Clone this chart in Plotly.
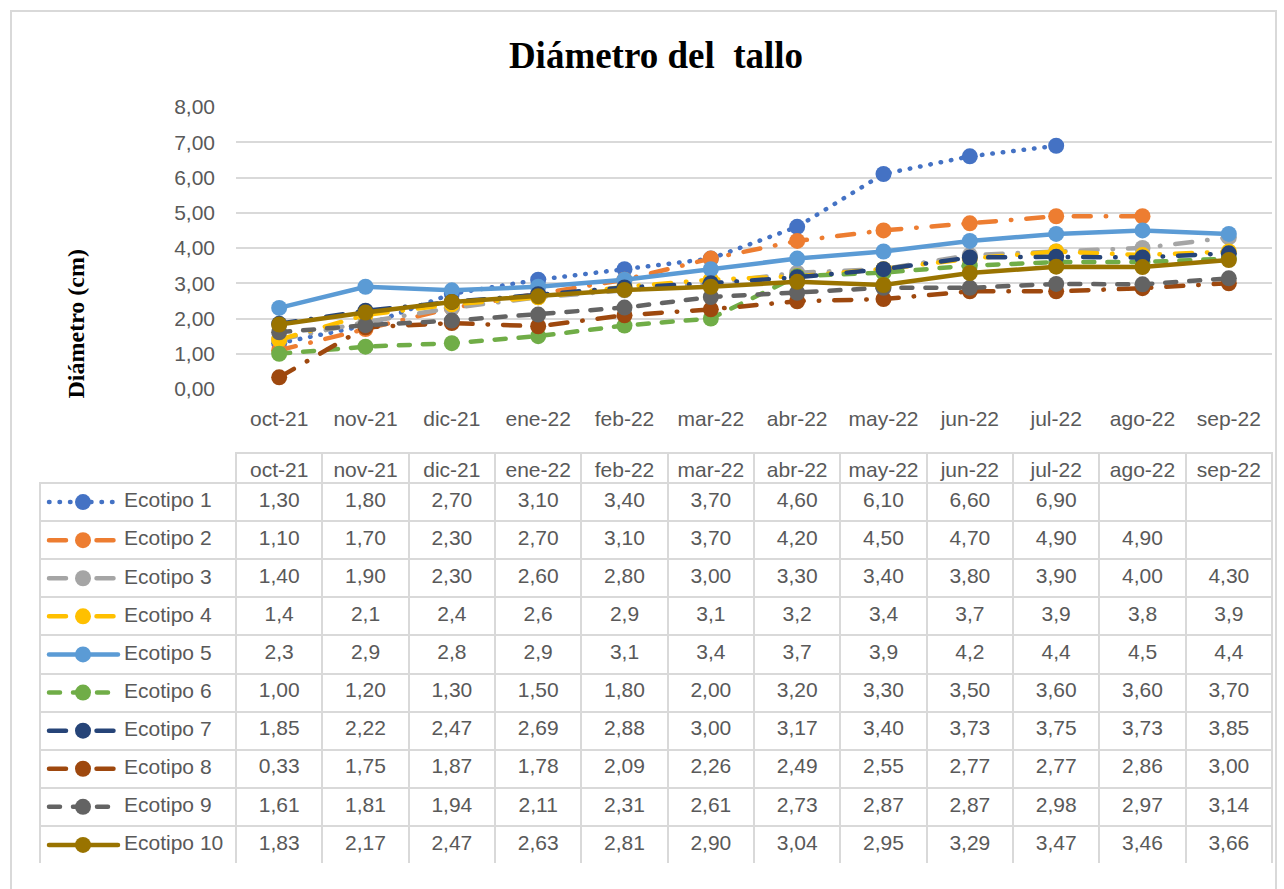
import plotly.graph_objects as go

W, H = 1284, 889

meses = ["oct-21", "nov-21", "dic-21", "ene-22", "feb-22", "mar-22",
         "abr-22", "may-22", "jun-22", "jul-22", "ago-22", "sep-22"]

ecotipo_1 = [1.30, 1.80, 2.70, 3.10, 3.40, 3.70, 4.60, 6.10, 6.60, 6.90, None, None]
ecotipo_2 = [1.10, 1.70, 2.30, 2.70, 3.10, 3.70, 4.20, 4.50, 4.70, 4.90, 4.90, None]
ecotipo_3 = [1.40, 1.90, 2.30, 2.60, 2.80, 3.00, 3.30, 3.40, 3.80, 3.90, 4.00, 4.30]
ecotipo_4 = [1.4, 2.1, 2.4, 2.6, 2.9, 3.1, 3.2, 3.4, 3.7, 3.9, 3.8, 3.9]
ecotipo_5 = [2.3, 2.9, 2.8, 2.9, 3.1, 3.4, 3.7, 3.9, 4.2, 4.4, 4.5, 4.4]
ecotipo_6 = [1.00, 1.20, 1.30, 1.50, 1.80, 2.00, 3.20, 3.30, 3.50, 3.60, 3.60, 3.70]
ecotipo_7 = [1.85, 2.22, 2.47, 2.69, 2.88, 3.00, 3.17, 3.40, 3.73, 3.75, 3.73, 3.85]
ecotipo_8 = [0.33, 1.75, 1.87, 1.78, 2.09, 2.26, 2.49, 2.55, 2.77, 2.77, 2.86, 3.00]
ecotipo_9 = [1.61, 1.81, 1.94, 2.11, 2.31, 2.61, 2.73, 2.87, 2.87, 2.98, 2.97, 3.14]
ecotipo_10 = [1.83, 2.17, 2.47, 2.63, 2.81, 2.90, 3.04, 2.95, 3.29, 3.47, 3.46, 3.66]

nombres = ["Ecotipo %d" % i for i in range(1, 11)]
series = [ecotipo_1, ecotipo_2, ecotipo_3, ecotipo_4, ecotipo_5,
          ecotipo_6, ecotipo_7, ecotipo_8, ecotipo_9, ecotipo_10]
decimales = [2, 2, 2, 1, 1, 2, 2, 2, 2, 2]

colores = ["#4472C4", "#ED7D31", "#A5A5A5", "#FFC000", "#5B9BD5",
           "#70AD47", "#264478", "#9E480E", "#636363", "#997300"]
# Excel-like dash patterns (round caps added after rendering)
ldd = "17px,15px,0.5px,15px"
guion = "11px,13px"
trazos = ["0.5px,10px", ldd, ldd, ldd, "solid",
          guion, ldd, ldd, guion, "solid"]

# pixel -> paper helpers
def px(x):
    return x / W

def py(y):
    return 1 - y / H

gris = "#595959"
linea_tabla = "#D9D9D9"
fuente = "Liberation Sans"

fig = go.Figure()

for nombre, vals, col, dash in zip(nombres, series, colores, trazos):
    fig.add_trace(go.Scatter(
        x=meses, y=vals, name=nombre, mode="lines+markers",
        line=dict(color=col, width=4.5, dash=dash),
        marker=dict(color=col, size=16),
        connectgaps=False, showlegend=False,
    ))

# tabla de datos
def fmt(v, d):
    if v is None:
        return ""
    return ("%.*f" % (d, v)).replace(".", ",")

columnas = [[""] * 10]
for j in range(len(meses)):
    columnas.append([fmt(s[j], d) for s, d in zip(series, decimales)])

fig.add_trace(go.Table(
    domain=dict(x=[px(40), px(1272)], y=[py(864), py(453)]),
    columnwidth=[196] + [86.33] * 12,
    header=dict(values=[""] + meses, height=30,
                align="center",
                fill=dict(color="rgba(0,0,0,0)"),
                line=dict(color=["rgba(0,0,0,0)"] + [linea_tabla] * 12, width=2),
                font=dict(family=fuente, size=21, color=gris)),
    cells=dict(values=columnas, height=38.1,
               align="center",
               fill=dict(color="rgba(0,0,0,0)"),
               line=dict(color=linea_tabla, width=2),
               font=dict(family=fuente, size=21, color=gris)),
))

# claves de leyenda dentro de la primera columna
filas = list(range(1, 11))
for fila, nombre, col, dash in zip(filas, nombres, colores, trazos):
    fig.add_trace(go.Scatter(
        x=[9, 78], y=[fila] * 2, mode="lines",
        line=dict(color=col, width=4.5, dash=dash),
        xaxis="x2", yaxis="y2", showlegend=False, hoverinfo="skip",
    ))
    fig.add_trace(go.Scatter(
        x=[43], y=[fila], mode="markers",
        marker=dict(color=col, size=16, opacity=1),
        xaxis="x2", yaxis="y2", showlegend=False, hoverinfo="skip",
    ))
fig.add_trace(go.Scatter(
    x=[84] * 10, y=filas, mode="text", text=nombres,
    textposition="middle right",
    textfont=dict(family=fuente, size=21, color=gris),
    xaxis="x2", yaxis="y2", showlegend=False, hoverinfo="skip",
))

fig.update_layout(
    width=W, height=H,
    margin=dict(l=0, r=0, t=0, b=0, autoexpand=False),
    paper_bgcolor="white", plot_bgcolor="white",
    separators=",.",
    title=dict(text="<b>Diámetro del  tallo</b>", x=px(656), y=py(55),
               xanchor="center", yanchor="middle",
               font=dict(family="Liberation Serif", size=37, color="black")),
    xaxis=dict(domain=[px(236), px(1272)], type="category",
               range=[-0.5, 11.5], showgrid=False, showline=False,
               ticks="", ticklabelstandoff=15,
               tickfont=dict(family=fuente, size=21, color=gris)),
    yaxis=dict(domain=[py(389), py(107)], range=[0, 8], dtick=1,
               tickformat=".2f", gridcolor=linea_tabla, gridwidth=1.5,
               zeroline=False, showline=False, ticks="", ticklabelstandoff=20,
               tickfont=dict(family=fuente, size=21, color=gris)),
    xaxis2=dict(domain=[px(40), px(236)], range=[0, 196], visible=False,
                fixedrange=True),
    yaxis2=dict(domain=[py(864), py(483)], range=[10.5, 0.5], visible=False,
                fixedrange=True),
    shapes=[dict(type="rect", xref="paper", yref="paper",
                 x0=px(11), x1=px(1276), y0=py(900), y1=py(11),
                 line=dict(color=linea_tabla, width=2), layer="below")],
    annotations=[dict(text="<b>Diámetro (cm)</b>", textangle=-90,
                      xref="paper", yref="paper", x=px(60), y=py(248),
                      showarrow=False,
                      font=dict(family="Liberation Serif", size=24,
                                color="black"))],
)

fig.write_html(
    "out.html",
    config={"displayModeBar": False},
    post_script="document.body.style.margin='0';"
                "document.body.style.overflow='hidden';"
                "document.querySelectorAll('.js-line').forEach(function(e){"
                "e.style.strokeLinecap='round';});",
)
